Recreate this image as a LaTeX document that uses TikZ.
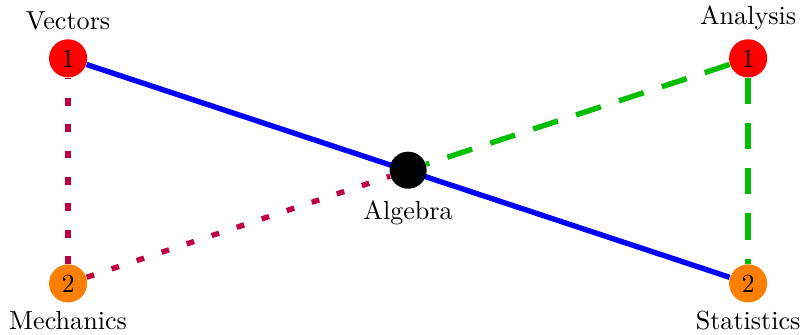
\documentclass[tikz,border=0pt]{standalone}
\usetikzlibrary{backgrounds}

\tikzset{
  every node/.style={font=\fontsize{10.7}{13}\selectfont},
  topic/.style={circle, inner sep=0pt, minimum size=15.6pt},
  hub/.style={circle, fill=black, inner sep=0pt, minimum size=15.2pt},
  link/.style={line width=2.2pt},
  dashlink/.style={link, green!75!black, dash pattern=on 10.7pt off 7.8pt},
  dotlink/.style={link, purple, dash pattern=on 3.2pt off 7.6pt}
}

\begin{document}
\begin{tikzpicture}
      \useasboundingbox (0,0) rectangle (11.56,4.81);
      \node[topic, fill=red, label=above:Vectors] (vec) at (0.98,3.97) {1};
      \node[topic, fill=red, label=above:Analysis] (ana) at (10.77,3.97) {1};
      \node[topic, fill=orange, label=below:Mechanics] (mec) at (0.98,0.73) {2};
      \node[topic, fill=orange, label=below:Statistics] (sta) at (10.77,0.73) {2};
      \node[hub, label={[label distance=1pt]below:Algebra}] (alg) at (5.875,2.36) {};
      \begin{pgfonlayer}{background}
        \draw[link, blue] (vec) -- (sta);
        \draw[dashlink] (ana) -- (alg);
        \draw[dashlink] (ana) -- (sta);
        \draw[dotlink] (mec) -- (vec);
        \draw[dotlink] (mec) -- (alg);
      \end{pgfonlayer}
    \end{tikzpicture}
\end{document}
